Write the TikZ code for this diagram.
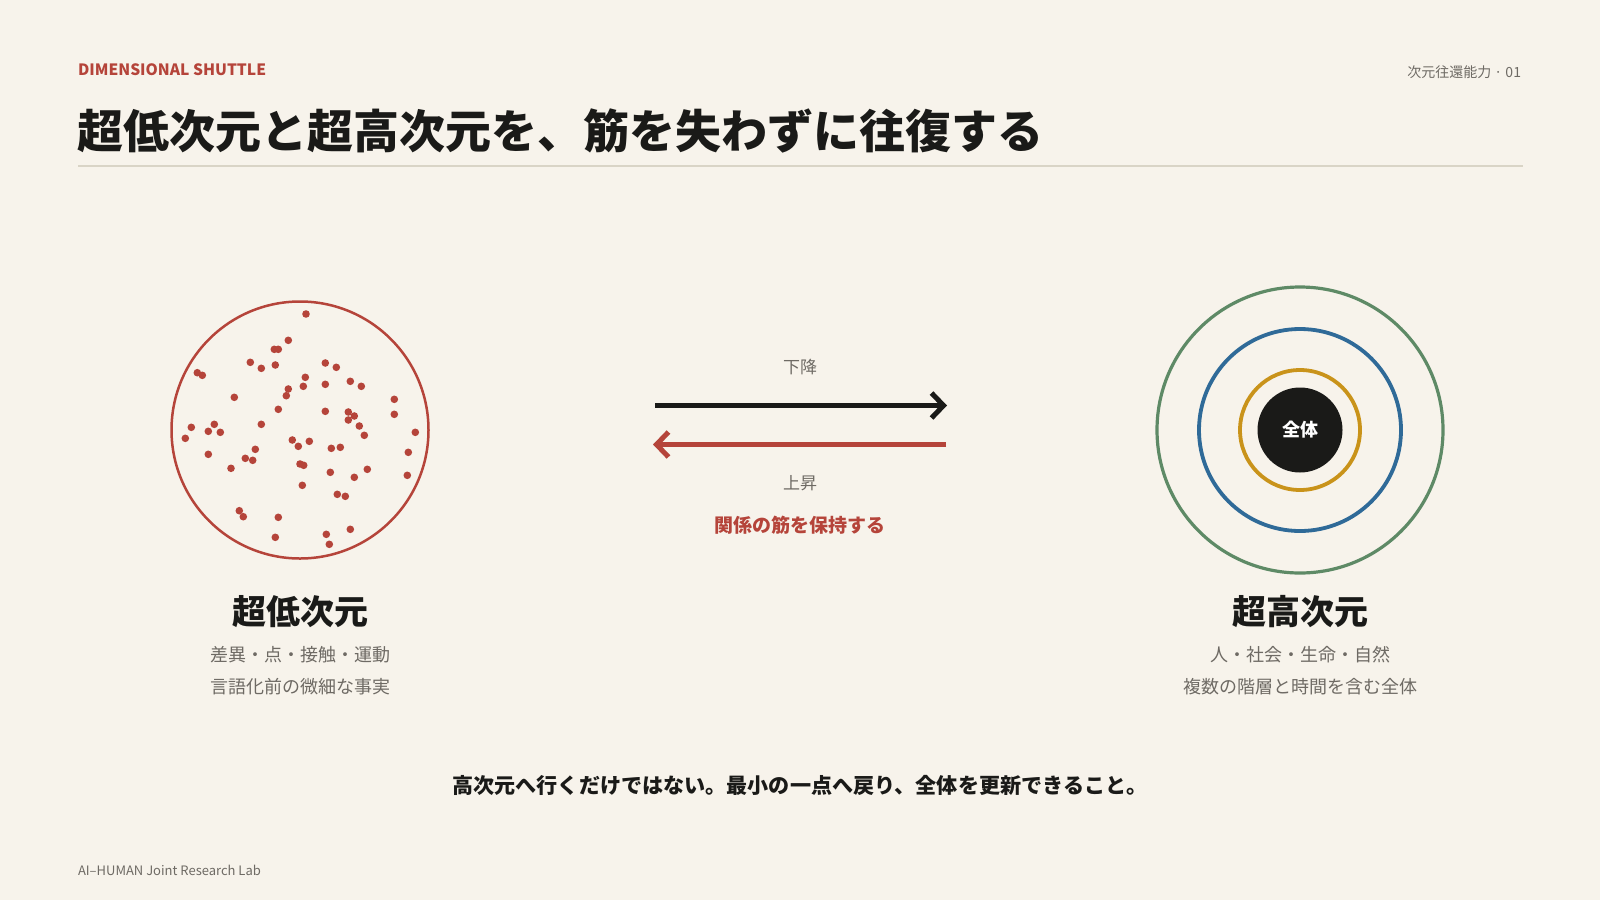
\documentclass[tikz,border=0pt]{standalone}
\usepackage{fontspec}
\setmainfont{Noto Sans CJK JP}
\usetikzlibrary{arrows.meta}
\definecolor{bg}{HTML}{F7F3EB}
\definecolor{accent}{HTML}{B5443A}
\definecolor{ink}{HTML}{1A1A18}
\definecolor{muted}{HTML}{6E6A64}
\definecolor{rulecol}{HTML}{D9D4C6}
\definecolor{ringgreen}{HTML}{5E8A66}
\definecolor{ringblue}{HTML}{2F6A98}
\definecolor{ringgold}{HTML}{C9931A}
\newcommand{\fsz}[1]{\fontsize{#1pt}{#1pt}\selectfont}
\begin{document}
\begin{tikzpicture}[x=1pt,y=-1pt,
  every node/.style={inner sep=0pt,outer sep=0pt},
  kicker/.style={text=accent,font=\fsz{15.6}\bfseries,anchor=west},
  pageno/.style={text=muted,font=\fsz{14},anchor=east},
  titletext/.style={text=ink,font=\fsz{46}\bfseries,anchor=west},
  biglabel/.style={text=ink,font=\fsz{34}\bfseries},
  sublabel/.style={text=muted,font=\fsz{18}},
  arrowlabel/.style={text=muted,font=\fsz{17}},
  keylabel/.style={text=accent,font=\fsz{19}\bfseries},
  closing/.style={text=ink,font=\fsz{21.1}\bfseries},
  footer/.style={text=muted,font=\fsz{13},anchor=west},
  ring/.style={circle,draw=#1,fill=none,line width=3.8pt},
  dot/.style={fill=accent},
  shuttle/.style={line width=5pt,-{Straight Barb[length=12pt,width=25pt,line width=5pt]}}
]
\fill[bg] (0,0) rectangle (1600,900);
\useasboundingbox (0,0) rectangle (1600,900);

% header
\node[kicker] (kick) at (78,70) {DIMENSIONAL SHUTTLE};
\node[pageno] (page) at (1521,72.5) {次元往還能力 · 01};
\node[titletext] (title) at (77,131) {超低次元と超高次元を、筋を失わずに往復する};
\coordinate (ruleL) at (78,166);
\coordinate (ruleR) at (1523,166);
\draw[rulecol,line width=2pt] (ruleL) -- (ruleR);

% low-dimension circle
\node[circle,draw=accent,line width=2.5pt,minimum size=257pt] (low) at (300,430) {};
\foreach \p in {(306,314),(288.3,340.3),(274.3,349.3),(278.3,349.3),(250.3,362.3),(261.3,368.3),(275.3,365),(325.3,363),(336.3,367.3),(197.3,372.7),(202.3,375.3),(305.3,377.3),(303.3,386.3),(325.3,384.3),(350.3,381.3),(361.3,386.3),(288.3,389),(286.3,395.7),(234.3,397.3),(394.3,399.3),(278.3,409.3),(325.3,411.3),(348.3,412),(354.3,416),(348.3,420),(394.3,414.3),(359.3,426),(191.3,427.3),(214.3,424.3),(208.3,431.3),(220.3,432.3),(261.3,424.3),(415.3,432.3),(364.3,435.3),(185.3,438.3),(292.3,440),(298.3,446.3),(309.3,441.3),(331.3,448.3),(340.3,447.3),(255.3,449.3),(208.3,454.3),(245.3,458.3),(252.7,460.3),(408.3,452.3),(231,468.3),(300,464),(303.7,465.3),(330.3,472.3),(367.3,469.3),(354.3,477.3),(407.3,475.3),(302.3,485.3),(337.3,494.3),(345.3,496.3),(239.3,510.7),(243.3,516.7),(278.3,517.3),(350.3,529.3),(326.3,534.3),(275.3,537.3),(329.3,544.3)}
  \fill[dot] \p circle (3.8pt);

\node[biglabel] (lowname) at (300,612) {超低次元};
\node[sublabel] (lowsub1) at (300,655) {差異・点・接触・運動};
\node[sublabel] (lowsub2) at (300,687) {言語化前の微細な事実};

% high-dimension rings
\node[ring=ringgreen,line width=3.2pt,minimum size=286pt] (ringG) at (1300,430) {};
\node[ring=ringblue,minimum size=202pt] (ringB) at (1300,430) {};
\node[ring=ringgold,minimum size=120pt] (ringY) at (1300,430) {};
\node[circle,fill=ink,minimum size=85pt,text=white,font=\fsz{18}\bfseries] (core) at (1300,430) {全体};

\node[biglabel] (highname) at (1300,612) {超高次元};
\node[sublabel] (highsub1) at (1300,655) {人・社会・生命・自然};
\node[sublabel] (highsub2) at (1300,687) {複数の階層と時間を含む全体};

% shuttle arrows
\coordinate (downA) at (655,405.5);
\coordinate (downB) at (947,405.5);
\coordinate (upA) at (946,444.5);
\coordinate (upB) at (653,444.5);
\draw[shuttle,ink] (downA) -- (downB);
\draw[shuttle,accent] (upA) -- (upB);
\node[arrowlabel] (down) at (800,367) {下降};
\node[arrowlabel] (up) at (800,483) {上昇};
\node[keylabel] (keep) at (800,525) {関係の筋を保持する};

% closing line & footer
\node[closing] (close) at (800,785) {高次元へ行くだけではない。最小の一点へ戻り、全体を更新できること。};
\node[footer] (foot) at (78,870) {AI–HUMAN Joint Research Lab};
\end{tikzpicture}
\end{document}
